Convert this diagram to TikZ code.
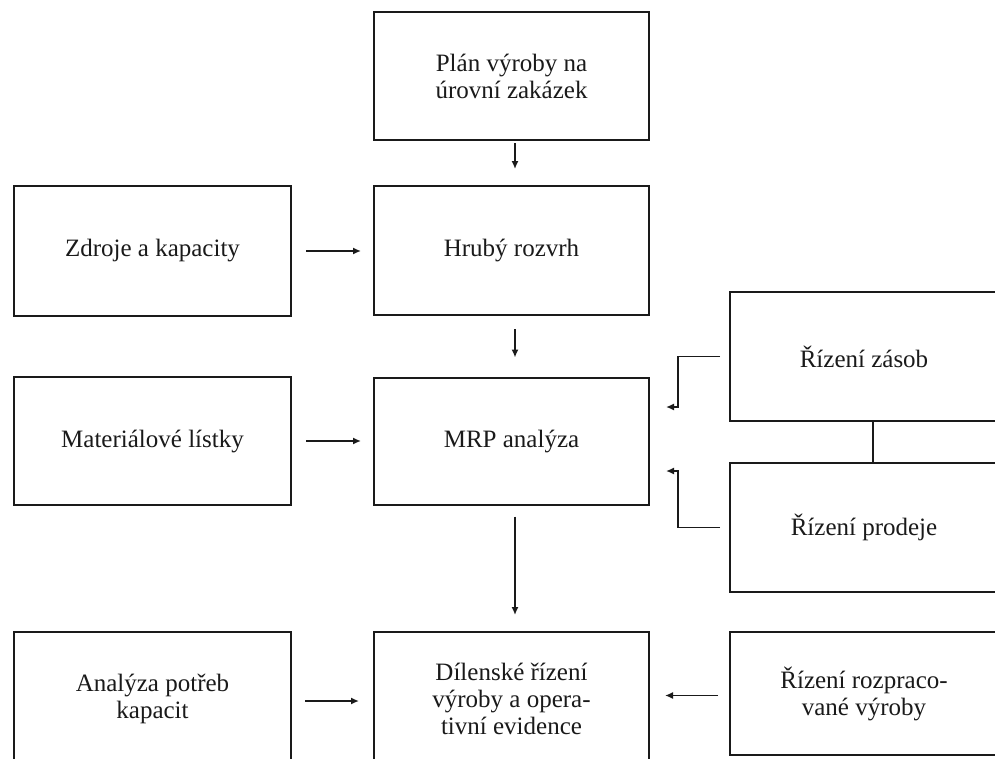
\documentclass[tikz,border=0pt]{standalone}
\usepackage{fontspec}
\setmainfont{Liberation Serif}
\usetikzlibrary{arrows.meta}
\definecolor{ink}{HTML}{1A1A1A}
\begin{document}
\begin{tikzpicture}[x=1pt,y=-1pt,
  box/.style={draw=ink, line width=2pt, inner sep=0pt, align=center,
    text=ink, font=\fontsize{25}{27}\selectfont},
  conn/.style={draw=ink, line width=1.5pt},
  arr/.style={conn, -{Latex[length=8pt,width=7pt]}}]
\useasboundingbox (0,0) rectangle (995,758);
\clip (0,0) rectangle (995,758);
\fill[white] (0,0) rectangle (995,758);
% nodes
\node[box, minimum width=275pt, minimum height=128pt] (plan) at (511.5,76) {Plán výroby na\\úrovní zakázek};
\node[box, minimum width=275pt, minimum height=129pt] (hruby) at (511.5,250.5) {Hrubý rozvrh};
\node[box, minimum width=277pt, minimum height=130pt] (zdroje) at (152.5,251) {Zdroje a kapacity};
\node[box, minimum width=277pt, minimum height=128pt] (mat) at (152.5,441) {Materiálové lístky};
\node[box, minimum width=275pt, minimum height=127pt] (mrp) at (511.5,441) {MRP analýza};
\node[box, minimum width=268pt, minimum height=129pt] (zasob) at (864,356.5) {Řízení zásob};
\node[box, minimum width=268pt, minimum height=129pt] (prodej) at (864,527.5) {Řízení prodeje};
\node[box, minimum width=277pt, minimum height=134pt] (anal) at (152.5,699) {Analýza potřeb\\kapacit};
\node[box, minimum width=275pt, minimum height=134pt] (dil) at (511.5,699) {Dílenské řízení\\výroby a opera-\\tivní evidence};
\node[box, minimum width=268pt, minimum height=123pt] (rozpr) at (864,693.5) {Řízení rozpraco-\\vané výroby};
% vertical arrows
\draw[arr, shorten <=2pt, shorten >=16pt] ([xshift=3.5pt]plan.south) -- ([xshift=3.5pt]hruby.north);
\draw[arr, shorten <=13pt, shorten >=19pt] ([xshift=3.5pt]hruby.south) -- ([xshift=3.5pt]mrp.north);
\draw[arr, shorten <=11pt, shorten >=16pt] ([xshift=3.5pt]mrp.south) -- ([xshift=3.5pt]dil.north);
% horizontal arrows
\draw[arr, shorten <=14pt, shorten >=12pt] (zdroje.east) -- (zdroje.east -| hruby.west);
\draw[arr, shorten <=14pt, shorten >=12pt] (mat.east) -- (mat.east -| mrp.west);
\draw[arr, shorten <=13pt, shorten >=14pt] ([yshift=-2pt]anal.east) -- ([yshift=-2pt]anal.east -| dil.west);
\draw[arr, shorten <=11pt, shorten >=15pt] ([yshift=-2pt]rozpr.west) -- ([yshift=-2pt]rozpr.west -| dil.east);
% elbow arrows into MRP
\coordinate (k1) at (678,407);
\coordinate (e1) at (666,407);
\coordinate (k2) at (678,471);
\coordinate (e2) at (666,471);
\draw[arr] ([xshift=-9pt]zasob.west) -| (k1) -- (e1);
\draw[arr] ([xshift=-9pt]prodej.west) -| (k2) -- (e2);
% link between the two right boxes
\draw[conn] ([xshift=9pt]zasob.south) -- ([xshift=9pt]prodej.north);
\end{tikzpicture}
\end{document}
